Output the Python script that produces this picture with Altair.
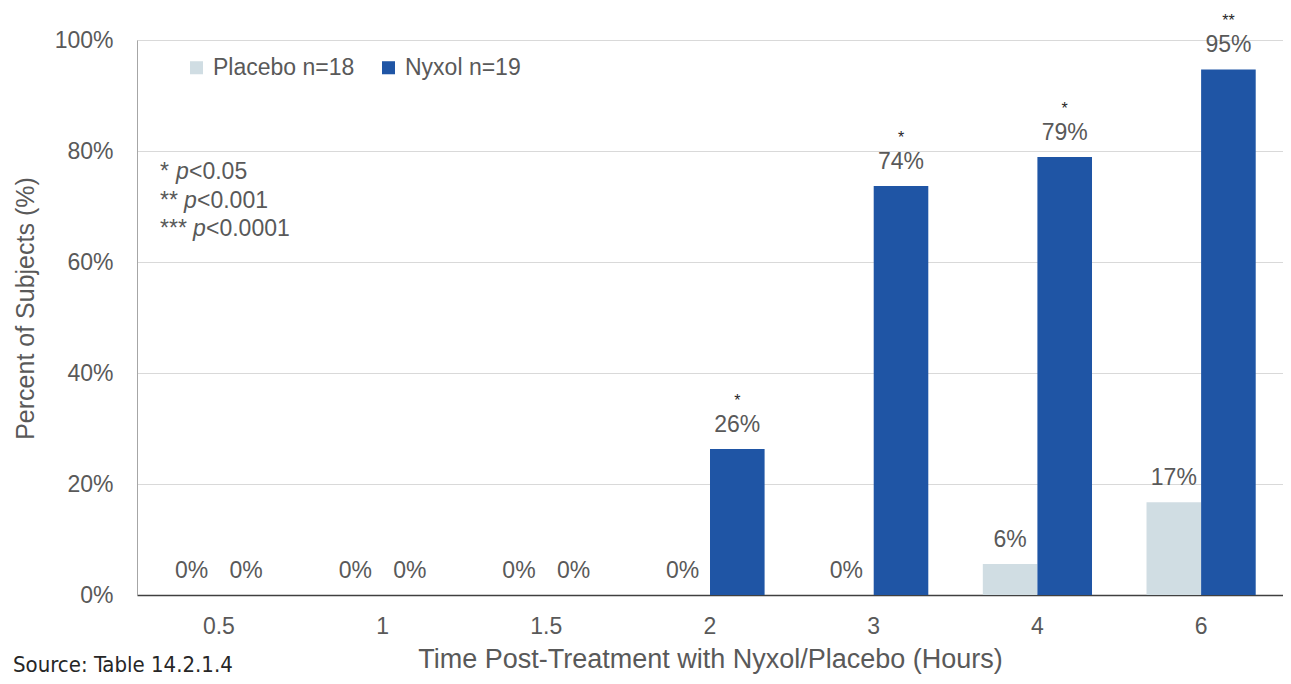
import altair as alt
import pandas as pd

times = ["0.5", "1", "1.5", "2", "3", "4", "6"]
groups = ["Placebo n=18", "Nyxol n=19"]
placebo = [0, 0, 0, 0, 0, 5.6, 16.7]
nyxol = [0, 0, 0, 26.3, 73.7, 78.9, 94.7]
nyxol_sig = ["", "", "", "*", "*", "*", "**"]
note_stars = ["*", "**", "***"]
note_thresholds = ["<0.05", "<0.001", "<0.0001"]
source_note = "Source: Table 14.2.1.4"

rows = []
for i, t in enumerate(times):
    rows.append({"time": t, "group": groups[0], "value": placebo[i], "sig": ""})
    rows.append({"time": t, "group": groups[1], "value": nyxol[i], "sig": nyxol_sig[i]})
df = pd.DataFrame(rows)
df["label"] = df["value"].round(0).astype(int).astype(str) + "%"

FONT = "Liberation Sans, Arial, sans-serif"
GRAY = "#595959"
FS = 23
W, H = 1146, 555

x_enc = alt.X("time:N", sort=times, title="Time Post-Treatment with Nyxol/Placebo (Hours)",
              scale=alt.Scale(paddingInner=0.333, paddingOuter=0.1667),
              axis=alt.Axis(labelAngle=0, labelFontSize=FS, labelColor=GRAY, labelFont=FONT,
                            labelPadding=20, ticks=False, domainColor="#404040", domainWidth=1.5,
                            titleFontSize=27, titleFont=FONT, titleColor=GRAY, titleFontWeight="normal",
                            titlePadding=8))
xoff = alt.XOffset("group:N", sort=groups, scale=alt.Scale(paddingInner=0, paddingOuter=0))
y_enc = alt.Y("value:Q", title="Percent of Subjects (%)",
              scale=alt.Scale(domain=[0, 100]),
              axis=alt.Axis(values=[0, 20, 40, 60, 80, 100], labelExpr="datum.value + '%'",
                            labelFontSize=FS, labelColor=GRAY, labelFont=FONT, labelPadding=24,
                            ticks=False, domainColor="#a6a6a6", gridColor="#d9d9d9",
                            titleFontSize=25, titleFont=FONT, titleColor=GRAY,
                            titleFontWeight="normal", titlePadding=16, titleY=268))

base = alt.Chart(df).encode(x=x_enc, xOffset=xoff)

bars = base.mark_bar().encode(
    y=y_enc,
    color=alt.Color("group:N", sort=groups,
                    scale=alt.Scale(domain=groups, range=["#d0dde3", "#1f55a5"]),
                    legend=alt.Legend(orient="none", legendX=48, legendY=16, direction="horizontal",
                                      title=None, labelFontSize=FS, labelColor=GRAY, labelFont=FONT,
                                      symbolType="square", symbolSize=170, symbolStrokeWidth=0,
                                      columnPadding=22, labelOffset=5)),
)

labels = base.mark_text(fontSize=FS, font=FONT, color=GRAY, baseline="alphabetic", dy=-17).encode(
    y="value:Q", text="label:N")

stars = base.mark_text(fontSize=16, font=FONT, color="#262626", baseline="alphabetic", dy=-43).encode(
    y="value:Q", text="sig:N")

layers = [bars, labels, stars]

note_y = [132, 161, 189]
p_dx = [16, 24, 33]
x0 = 23
for i in range(3):
    d = pd.DataFrame({"s": [note_stars[i]], "p": ["p"], "t": [note_thresholds[i]]})
    c = alt.Chart(d)
    layers.append(c.mark_text(align="left", baseline="middle", fontSize=FS, font=FONT, color=GRAY).encode(
        x=alt.value(x0), y=alt.value(note_y[i]), text="s:N"))
    layers.append(c.mark_text(align="left", baseline="middle", fontSize=FS, font=FONT, color=GRAY,
                              fontStyle="italic").encode(
        x=alt.value(x0 + p_dx[i]), y=alt.value(note_y[i]), text="p:N"))
    layers.append(c.mark_text(align="left", baseline="middle", fontSize=FS, font=FONT, color=GRAY).encode(
        x=alt.value(x0 + p_dx[i] + 13), y=alt.value(note_y[i]), text="t:N"))

src = alt.Chart(pd.DataFrame({"t": [source_note]})).mark_text(
    align="left", baseline="alphabetic", fontSize=22,
    font="Liberation Sans Narrow, DejaVu Sans Condensed, sans-serif", color="#262626").encode(
    x=alt.value(-124), y=alt.value(632), text="t:N")
layers.append(src)

chart = alt.layer(*layers).properties(
    width=W, height=H,
    autosize=alt.AutoSizeParams(type="none"),
    padding={"left": 129, "top": 32, "right": 0, "bottom": 81},
).configure_view(stroke=None).configure(background="white")

chart.save("out.html", embed_options={"renderer": "svg", "actions": False})
